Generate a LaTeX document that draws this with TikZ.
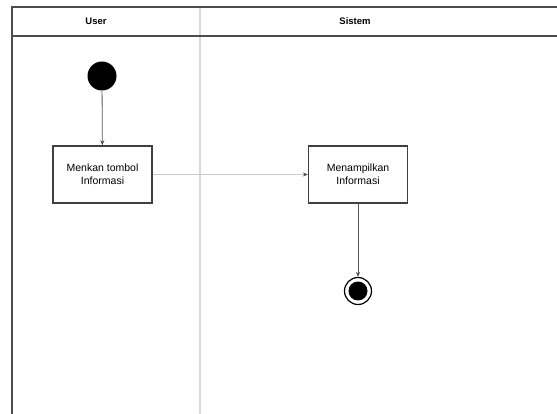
\documentclass[tikz,border=0pt]{standalone}
\usepackage{fontspec}
\setmainfont{Liberation Sans}
\usetikzlibrary{arrows.meta, positioning}
\usepackage{xcolor}

\begin{document}
\begin{tikzpicture}[
x=1pt, y=-1pt,
node distance=53pt,
box/.style={draw=black!75,
line width=1.4pt,
rectangle,
minimum width=99pt,
minimum height=57pt,
inner sep=2pt,
font=\fontsize{10.5}{13}\selectfont,
align=center},
startnode/.style={circle, fill=black, minimum size=29pt, inner sep=0pt},
endnode/.style={circle, draw=black, line width=1.2pt, fill=white, minimum size=27pt, inner sep=0pt},
lane/.style={draw=black!70, line width=1.6pt},
header/.style={font=\bfseries\fontsize{9.5}{11}\selectfont},
arrow/.style={-{Stealth[length=5pt, width=4pt, color=black!70]}, black!65, line width=0.8pt}
]
\useasboundingbox (0,0) rectangle (557,414);

% swimlanes
\draw[black!15, line width=1.2pt] (200,7) -- (200,414);
\draw[lane] (12,414) -- (12,7) -- (557,7);
\draw[lane] (12,36) -- (557,36);
\node[header] (user) at (96,21) {User};
\node[header] (sistem) at (355,21) {Sistem};

% activities
\node[startnode] (start) at (102,76) {};
\node[box] (step0) at (102.5,174.5) {Menkan tombol\\Informasi};
\node[box] (step1) at (358,174.5) {Menampilkan\\Informasi};
\node[endnode] (stop) at (358,291) {};
\node[circle, fill=black, minimum size=19pt, inner sep=0pt] (stopdot) at (stop) {};

\draw[arrow] (start) -- (step0);
\draw[arrow, black!20] (step0) -- (step1);
\draw[arrow] (step1) -- (stop);

\end{tikzpicture}
\end{document}
